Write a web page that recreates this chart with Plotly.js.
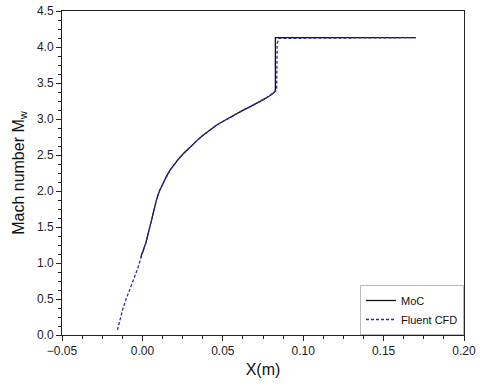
<!DOCTYPE html>
<html>
<head>
<meta charset="utf-8">
<script src="https://cdn.plot.ly/plotly-3.0.1.min.js"></script>
<style>html,body{margin:0;padding:0;background:#fff;}#chart{width:480px;height:389px;}</style>
</head>
<body>
<div id="chart"></div>
<script>
const mocX = [-0.001, 0.0023, 0.0054, 0.0075, 0.0088, 0.0106, 0.0126, 0.0147, 0.0172, 0.0199, 0.0225, 0.0251, 0.0282, 0.0313, 0.0344, 0.0375, 0.0416, 0.0458, 0.0500, 0.0541, 0.0583, 0.0624, 0.0665, 0.0707, 0.0749, 0.0790, 0.0821, 0.0827, 0.0827, 0.170];
const mocM = [1.08, 1.29, 1.57, 1.77, 1.88, 2.00, 2.10, 2.19, 2.29, 2.375, 2.445, 2.51, 2.58, 2.65, 2.71, 2.77, 2.84, 2.91, 2.965, 3.02, 3.07, 3.12, 3.165, 3.21, 3.265, 3.32, 3.37, 3.40, 4.13, 4.13];
const cfdX = [-0.0155, -0.0122, -0.0101, -0.006, -0.003, -0.0008, 0.0023, 0.0054, 0.0075, 0.0088, 0.0106, 0.0126, 0.0147, 0.0172, 0.0199, 0.0225, 0.0251, 0.0282, 0.0313, 0.0344, 0.0375, 0.0416, 0.0458, 0.0500, 0.0541, 0.0583, 0.0624, 0.0665, 0.0707, 0.0749, 0.0790, 0.0821, 0.0835, 0.0838, 0.0850, 0.170];
const cfdM = [0.07, 0.36, 0.50, 0.73, 0.92, 1.08, 1.29, 1.57, 1.77, 1.88, 2.00, 2.10, 2.19, 2.29, 2.375, 2.445, 2.51, 2.58, 2.65, 2.71, 2.77, 2.84, 2.91, 2.965, 3.02, 3.07, 3.12, 3.165, 3.21, 3.265, 3.32, 3.37, 3.40, 4.05, 4.12, 4.13];
const seriesNames = ["MoC", "Fluent CFD"];

const traces = [
  {x: mocX, y: mocM, name: seriesNames[0], type: 'scatter', mode: 'lines',
   line: {color: '#111111', width: 1.3}},
  {x: cfdX, y: cfdM, name: seriesNames[1], type: 'scatter', mode: 'lines',
   line: {color: '#2a2aa8', width: 1.3, dash: '3px,2px'}}
];

const fontFam = 'Liberation Sans, Arial, sans-serif';
const axisCommon = {
  showgrid: false, zeroline: false, showline: true, mirror: true,
  linecolor: '#222', linewidth: 1, ticks: 'outside', ticklen: 5, tickwidth: 1,
  tickcolor: '#222', tickfont: {family: fontFam, size: 12, color: '#222'}
};

const layout = {
  width: 480, height: 389,
  margin: {l: 62, r: 16, t: 11, b: 54},
  paper_bgcolor: '#fff', plot_bgcolor: '#fff',
  showlegend: true,
  legend: {x: 1, y: 0, xanchor: 'right', yanchor: 'bottom', bordercolor: '#bbb', borderwidth: 1,
    bgcolor: '#fff', font: {family: fontFam, size: 11, color: '#111'},
    tracegroupgap: 0, itemwidth: 30},
  xaxis: Object.assign({}, axisCommon, {
    range: [-0.05, 0.20], dtick: 0.05, tickformat: '.2f',
    minor: {dtick: 0.0125, ticks: 'outside', ticklen: 3, tickcolor: '#222'},
    title: {text: 'X(m)', font: {family: fontFam, size: 16, color: '#111'}, standoff: 6}
  }),
  yaxis: Object.assign({}, axisCommon, {
    range: [0, 4.5], dtick: 0.5, tickformat: '.1f',
    minor: {dtick: 0.125, ticks: 'outside', ticklen: 3, tickcolor: '#222'},
    title: {text: 'Mach number M<sub>w</sub>', font: {family: fontFam, size: 16, color: '#111'}, standoff: 8}
  })
};

Plotly.newPlot('chart', traces, layout, {staticPlot: true, displayModeBar: false});
</script>
</body>
</html>
